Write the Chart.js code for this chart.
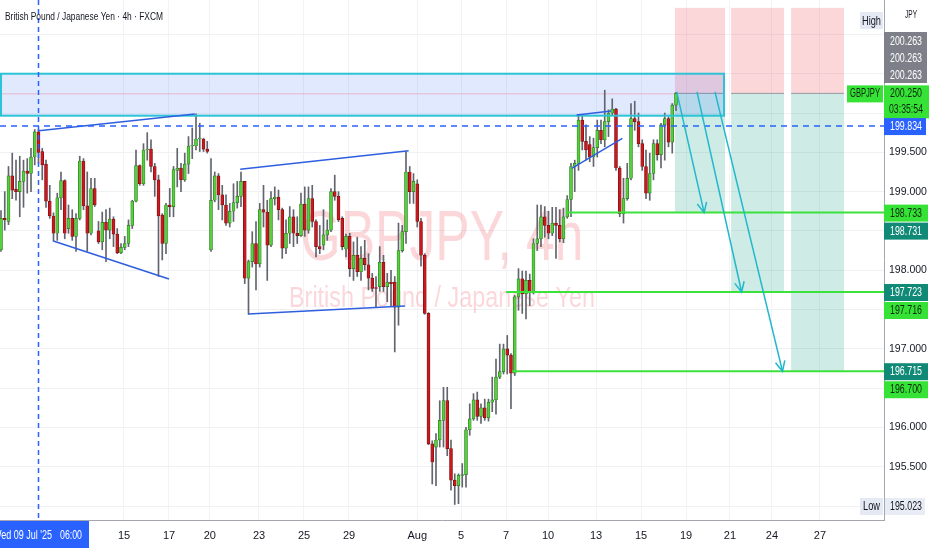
<!DOCTYPE html>
<html><head><meta charset="utf-8">
<script src="https://cdn.jsdelivr.net/npm/chart.js@4.4.1/dist/chart.umd.min.js"></script>
<style>html,body{margin:0;padding:0;background:#fff;overflow:hidden}canvas{display:block}</style>
</head><body><canvas id="c" width="932" height="550"></canvas>
<script>
// ---- data (GBPJPY 4h candles, index 0 = first visible candle) ----
const opens=[198.26,198.66,198.62,199.20,199.03,199.00,199.13,199.26,199.23,199.44,
199.76,199.51,199.35,198.88,198.69,198.47,198.92,199.14,198.53,198.66,
198.43,198.66,199.39,198.82,198.47,199.04,198.50,198.36,198.61,198.51,
198.65,198.46,198.22,198.29,198.34,198.57,198.88,199.33,199.10,199.53,
199.54,199.32,199.15,198.70,198.34,198.83,198.81,199.27,199.30,199.15,
199.35,199.58,199.58,199.67,199.67,199.54,198.26,198.89,199.20,198.96,
198.83,198.60,198.75,198.86,198.94,199.13,197.90,198.11,198.34,198.08,
198.77,198.74,198.32,198.91,198.93,198.77,198.28,198.47,198.68,198.47,
198.44,198.84,198.51,198.91,198.62,198.30,198.32,198.45,198.51,199.00,
198.94,198.66,198.27,198.43,198.02,198.19,197.98,198.15,198.07,197.90,
197.78,197.79,198.10,197.79,197.85,197.85,197.53,198.25,198.49,199.25,
199.00,199.10,198.62,198.19,197.45,195.79,195.75,195.84,196.09,196.34,
195.73,195.33,195.26,195.39,195.40,195.97,196.11,196.35,196.14,196.25,
196.12,196.32,196.35,196.64,196.71,197.00,196.92,196.69,197.66,197.89,
197.70,197.87,197.72,198.34,198.40,198.68,198.57,198.47,198.60,198.57,
198.40,198.68,198.90,199.32,199.36,199.91,199.64,199.60,199.44,199.56,
199.78,199.66,199.89,200.00,200.05,199.30,198.72,198.91,199.17,199.93,
199.89,199.61,199.32,198.98,199.23,199.61,199.47,199.85,199.93,199.63,
200.10];
const highs=[198.76,199.00,199.32,199.49,199.40,199.45,199.40,199.42,199.55,199.79,
199.79,199.55,199.40,199.08,198.73,198.98,199.25,199.15,198.83,198.77,
198.72,199.45,199.42,199.25,199.17,199.17,198.62,198.74,198.77,198.79,
198.68,198.53,198.34,198.43,198.64,198.89,199.53,199.34,199.61,199.75,
199.66,199.36,199.21,198.72,198.85,199.04,199.32,199.55,199.36,199.49,
199.70,199.81,199.99,199.87,199.68,199.64,199.42,199.25,199.23,199.08,
198.96,198.85,199.10,199.13,199.25,199.13,198.13,198.49,198.62,198.85,
199.08,198.89,199.00,199.06,199.02,198.79,198.64,198.81,198.77,198.68,
198.98,199.06,199.06,199.08,198.64,198.57,198.77,198.64,199.04,199.21,
199.00,198.68,198.46,198.47,198.36,198.42,198.30,198.38,198.21,197.96,
197.92,198.30,198.19,197.96,198.00,197.92,198.60,198.57,199.51,199.32,
199.23,199.15,198.66,198.21,197.46,195.83,195.92,196.34,196.51,196.51,
195.84,195.41,195.41,195.54,196.00,196.30,196.43,196.45,196.30,196.36,
196.36,196.64,196.87,197.06,197.06,197.17,196.94,197.68,198.02,197.99,
197.99,197.95,198.40,198.83,198.83,198.81,198.75,198.80,198.80,198.77,
198.79,198.95,199.36,199.40,199.98,199.98,199.85,199.70,199.68,199.91,
199.91,200.29,200.04,200.18,200.06,199.32,199.17,199.36,200.12,200.15,
200.00,199.66,199.53,199.49,199.66,199.66,199.87,200.00,199.95,200.12,
200.263];
const lows=[198.24,198.51,198.58,198.91,198.89,198.68,198.80,198.98,199.00,199.34,
199.36,199.15,198.80,198.66,198.37,198.38,198.77,198.40,198.47,198.38,
198.24,198.64,198.77,198.24,198.45,198.81,198.34,198.26,198.11,198.40,
198.30,198.21,198.21,198.26,198.30,198.53,198.87,199.08,199.08,199.40,
199.25,198.94,197.92,198.13,198.21,198.68,198.68,199.06,199.00,199.13,
199.23,199.42,199.53,199.51,199.51,199.49,198.24,198.87,198.77,198.64,
198.57,198.55,198.62,198.79,198.81,197.83,197.44,198.04,197.75,198.04,
198.55,197.87,198.30,198.83,198.64,198.15,198.21,198.34,198.30,198.34,
198.43,198.43,198.47,198.55,198.17,198.21,198.26,198.38,198.49,198.89,
198.62,198.26,198.17,197.92,197.87,197.92,197.87,198.00,197.75,197.73,
197.53,197.73,197.73,197.60,197.55,196.96,197.30,198.23,198.34,198.85,
198.85,198.55,198.05,197.44,195.78,195.28,195.26,195.75,195.75,195.64,
195.20,195.02,195.03,195.24,195.24,195.90,196.09,196.09,196.05,196.09,
196.08,196.20,196.17,196.62,196.68,196.68,196.24,196.66,197.49,197.45,
197.38,197.55,197.70,198.25,198.30,198.42,198.40,198.44,198.15,198.36,
198.35,198.66,198.68,199.00,199.27,199.53,199.40,199.38,199.32,199.44,
199.61,199.57,199.70,199.97,199.27,198.68,198.60,198.89,199.15,199.78,
199.57,199.27,198.91,198.89,199.15,199.40,199.30,199.40,199.57,199.49,
200.03];
const closes=[198.66,198.64,199.20,199.02,199.00,199.13,199.26,199.23,199.44,199.76,
199.50,199.34,198.88,198.69,198.47,198.92,199.14,198.47,198.66,198.43,
198.66,199.39,198.82,198.47,199.04,198.83,198.36,198.61,198.51,198.65,
198.46,198.22,198.29,198.34,198.57,198.88,199.33,199.10,199.53,199.54,
199.32,199.15,198.69,198.34,198.83,198.81,199.28,199.30,199.15,199.35,
199.58,199.59,199.67,199.68,199.54,199.51,198.89,199.20,198.96,198.83,
198.60,198.75,198.86,198.94,199.13,197.90,198.11,198.34,198.08,198.77,
198.74,198.32,198.91,198.93,198.77,198.28,198.47,198.68,198.47,198.44,
198.84,198.51,198.91,198.62,198.30,198.27,198.45,198.51,199.00,198.94,
198.64,198.30,198.43,198.02,198.19,197.98,198.15,198.07,197.90,197.77,
197.77,198.10,197.79,197.85,197.83,197.53,198.25,198.49,199.25,199.00,
199.13,198.62,198.19,197.45,195.79,195.56,195.84,196.09,196.34,195.73,
195.33,195.26,195.39,195.40,195.97,196.11,196.35,196.14,196.25,196.12,
196.32,196.35,196.64,196.71,197.00,196.92,196.69,197.66,197.89,197.70,
197.87,197.72,198.34,198.40,198.68,198.57,198.47,198.60,198.57,198.40,
198.68,198.90,199.32,199.36,199.91,199.64,199.53,199.44,199.56,199.78,
199.66,199.89,200.00,200.05,199.30,198.72,198.91,199.17,199.93,199.89,
199.61,199.32,198.98,199.23,199.61,199.47,199.85,199.93,199.63,200.10,
200.25];
const tickPos=[32.8,44.8,55.7,68.8,80.8,92.8,111.0,122.7,134.7,145.9,158.7,170.7,182.7,194.4,205.6,218.4];
const tickLabels=['15','17','20','23','25','29','Aug','5','7','10','13','15','19','21','24','27'];
const priceTicks=[195.0,195.5,196.0,196.5,197.0,197.5,198.0,198.5,199.0,199.5,200.0,200.5,201.0];
const coveredTicks=[195.0,196.5,197.5,198.5,200.0,200.5,201.0];
const xRange=[-0.267,235.47];
const yRange=[194.822,201.438];
// drawings (in candle-index / price space)
const zone={from:0,to:192.8,low:199.966,high:200.5};
const crossIndex=10, crossPrice=199.834;
const lastPrice=200.25, highPrice=200.263, lowPrice=195.023;
const trendLines=[[10.05,199.775,51.7,199.987],[13.95,198.372,44.8,197.888],[63.8,199.284,108.7,199.52],
  [65.9,197.443,107.7,197.544],[153.5,199.975,162.7,200.025],[152.2,199.296,165.7,199.678]];
const targets=[198.733,197.723,196.715];
const targetStarts=[150.9,134.7,136.3];
const stopLevel=201.338;
const boxFrom=[179.7,194.7,210.7], boxTo=[193.1,208.8,224.8];
const arrows=[[180.2,200.27,187.5,198.733],[185.6,200.27,197.5,197.723],[190.4,200.27,208.4,196.715]];
const targetLabelsA=['198.733','197.723','196.715'];
const targetLabelsB=['198.731','197.716','196.700'];

const BASEFONT="'Liberation Sans',Arial,sans-serif";
Chart.defaults.font.family=BASEFONT;

const idx=opens.map((_,i)=>i);
const up=idx.map(i=>closes[i]>=opens[i]);

function condText(ctx,text,x,y,size,width,align,color,weight){
  ctx.save();ctx.font=(weight||'')+' '+size+'px '+BASEFONT;ctx.fillStyle=color;
  const m=ctx.measureText(text).width;const sx=width/m;
  ctx.translate(x,y);ctx.scale(sx,1);ctx.textAlign=align||'left';ctx.textBaseline='alphabetic';
  ctx.fillText(text,0,0);ctx.restore();
}
function arrowHead(ctx,x1,y1,x2,y2,len){
  const a=Math.atan2(y2-y1,x2-x1);
  ctx.beginPath();
  ctx.moveTo(x2-len*Math.cos(a-0.45),y2-len*Math.sin(a-0.45));ctx.lineTo(x2,y2);
  ctx.lineTo(x2-len*Math.cos(a+0.45),y2-len*Math.sin(a+0.45));ctx.stroke();
}
function noPad(s){s.paddingTop=0;s.paddingBottom=0;s.paddingLeft=0;s.paddingRight=0;}

const drawings={
  id:'drawings',
  beforeDatasetsDraw(chart){
    const ctx=chart.ctx,a=chart.chartArea,X=v=>chart.scales.x.getPixelForValue(v),Y=v=>chart.scales.y.getPixelForValue(v);
    ctx.save();ctx.beginPath();ctx.rect(a.left,a.top,a.right-a.left,a.bottom-a.top);ctx.clip();
    const cx=(a.left+a.right)/2;
    condText(ctx,'GBPJPY, 4h',cx,a.top+260,71,283,'center','rgba(242,54,69,0.2)');
    condText(ctx,'British Pound / Japanese Yen',cx,a.top+306.5,29,306,'center','rgba(242,54,69,0.2)');
    for(let k=0;k<3;k++){
      const x1=X(boxFrom[k]),x2=X(boxTo[k]);
      ctx.fillStyle='rgba(242,54,69,0.2)';ctx.fillRect(x1,Y(stopLevel),x2-x1,Y(lastPrice)-Y(stopLevel));
      ctx.fillStyle='rgba(8,153,129,0.2)';ctx.fillRect(x1,Y(lastPrice),x2-x1,Y(targets[k])-Y(lastPrice));
      ctx.strokeStyle='#9598a1';ctx.lineWidth=1;ctx.beginPath();ctx.moveTo(x1,Y(lastPrice));ctx.lineTo(x2,Y(lastPrice));ctx.stroke();
    }
    ctx.fillStyle='rgba(41,98,255,0.14)';
    ctx.fillRect(X(zone.from),Y(zone.high),X(zone.to)-X(zone.from),Y(zone.low)-Y(zone.high));
    ctx.strokeStyle='rgba(242,54,69,0.28)';ctx.lineWidth=1;
    ctx.beginPath();ctx.moveTo(a.left,Y(lastPrice)+0.5);ctx.lineTo(X(boxFrom[0]),Y(lastPrice)+0.5);ctx.stroke();
    ctx.restore();
  },
  afterDatasetsDraw(chart){
    const ctx=chart.ctx,a=chart.chartArea,X=v=>chart.scales.x.getPixelForValue(v),Y=v=>chart.scales.y.getPixelForValue(v);
    ctx.save();ctx.beginPath();ctx.rect(a.left,a.top,a.right-a.left,a.bottom-a.top);ctx.clip();
    ctx.strokeStyle='#2cc3d6';ctx.lineWidth=2;
    ctx.strokeRect(X(zone.from),Y(zone.high),X(zone.to)-X(zone.from),Y(zone.low)-Y(zone.high));
    ctx.strokeStyle='#2f5fe0';ctx.lineWidth=1.6;
    trendLines.forEach(t=>{ctx.beginPath();ctx.moveTo(X(t[0]),Y(t[1]));ctx.lineTo(X(t[2]),Y(t[3]));ctx.stroke();});
    ctx.strokeStyle='#3ce23c';ctx.lineWidth=2;
    targets.forEach((t,k)=>{ctx.beginPath();ctx.moveTo(X(targetStarts[k]),Y(t));ctx.lineTo(a.right,Y(t));ctx.stroke();});
    ctx.strokeStyle='#2962ff';ctx.lineWidth=1.5;ctx.setLineDash([6,5]);
    ctx.beginPath();ctx.moveTo(a.left,Y(crossPrice));ctx.lineTo(a.right,Y(crossPrice));ctx.stroke();
    ctx.setLineDash([5,4]);
    ctx.beginPath();ctx.moveTo(X(crossIndex),a.top);ctx.lineTo(X(crossIndex),a.bottom);ctx.stroke();
    ctx.setLineDash([]);
    ctx.strokeStyle='#22b8cc';ctx.lineWidth=1.5;
    arrows.forEach(r=>{const x1=X(r[0]),y1=Y(r[1]),x2=X(r[2]),y2=Y(r[3]);
      ctx.beginPath();ctx.moveTo(x1,y1);ctx.lineTo(x2,y2);ctx.stroke();arrowHead(ctx,x1,y1,x2,y2,11);});
    ctx.restore();
  },
  afterDraw(chart){
    const ctx=chart.ctx,a=chart.chartArea,Y=v=>chart.scales.y.getPixelForValue(v);
    const L=a.right;
    condText(ctx,'British Pound / Japanese Yen · 4h · FXCM',a.left+5,a.top+19.5,11.5,158,'left','#131722');
    function box(y1,h,bg,x1,w){ctx.fillStyle=bg;ctx.fillRect(x1===undefined?L:x1,y1,w||43,h);}
    function txt(t,yc,col,x,w){condText(ctx,t,x===undefined?L+6:x,yc+4,12,w||32,'left',col);}
    condText(ctx,'JPY',L+21,a.top+18,11,12,'left','#131722');
    box(a.top+12,17,'#e4e9f3',L-24,23);condText(ctx,'High',L-22,a.top+25,12,19,'left','#131722');
    box(a.top+32,51,'#7d8089');
    [40.5,58,75].forEach(yc=>txt(highPrice.toFixed(3),a.top+yc,'#ffffff'));
    const yl=Y(lastPrice);
    box(yl-8,33,'#36e236',L,45);txt(lastPrice.toFixed(3),yl,'#0e2a0e');txt('03:35:54',yl+16,'#0e2a0e',L+5,34);
    box(yl-8,17,'#36e236',L-37,36);condText(ctx,'GBPJPY',L-34,yl+4,12,30,'left','#0e2a0e');
    const yc=Y(crossPrice);box(yc-8,17,'#2962ff',L,42);txt(crossPrice.toFixed(3),yc,'#ffffff');
    targets.forEach((t,k)=>{const y=Y(t);
      const firstGreen=(k===0);
      box(y-8,17,firstGreen?'#36e236':'#108a77',L,44);txt(targetLabelsA[k],y,firstGreen?'#0e2a0e':'#ffffff');
      box(y+10,17,firstGreen?'#108a77':'#36e236',L,44);txt(targetLabelsB[k],y+18,firstGreen?'#ffffff':'#0e2a0e');
    });
    const ylo=a.top+506;
    box(ylo-8,17,'#e4e9f3',L-24,23);condText(ctx,'Low',L-21,ylo+4,12,17,'left','#131722');
    box(ylo-8,17,'#e8ecf5',L+1,40);txt(lowPrice.toFixed(3),ylo,'#131722');
    const yb=a.bottom+1;
    ctx.fillStyle='#2962ff';ctx.fillRect(0,yb,89,27);
    condText(ctx,"Wed 09 Jul '25",52,yb+18,12,59,'right','#ffffff');
    condText(ctx,'06:00',60,yb+18,12,22,'left','#ffffff');
  }
};

new Chart(document.getElementById('c'),{
  type:'bar',
  data:{datasets:[
    {data:idx.map(i=>({x:i,y:[opens[i],closes[i]]})),
     backgroundColor:idx.map(i=>up[i]?'#55cf3c':'#c9181e'),
     borderColor:idx.map(i=>up[i]?'#2f7a22':'#7c1013'),
     borderWidth:0.7,borderSkipped:false,barThickness:3,grouped:false,order:1},
    {data:idx.map(i=>({x:i,y:[lows[i],highs[i]]})),
     backgroundColor:'#62656e',borderWidth:0,barThickness:1,grouped:false,order:2}
  ]},
  options:{
    responsive:false,animation:false,devicePixelRatio:1,
    layout:{padding:0},
    plugins:{legend:{display:false},tooltip:{enabled:false}},
    scales:{
      x:{type:'linear',min:xRange[0],max:xRange[1],offset:false,
        grid:{color:'#f2f3f6',drawTicks:false,offset:false},border:{color:'#a3a6af'},
        afterBuildTicks:s=>{s.ticks=tickPos.map(v=>({value:v}));},
        ticks:{autoSkip:false,maxRotation:0,padding:9,color:'#131722',font:{size:11},callback:(v,k)=>tickLabels[k]},
        afterFit:s=>{s.height=30;noPad(s);}},
      y:{type:'linear',position:'right',min:yRange[0],max:yRange[1],beginAtZero:false,
        grid:{color:'#f0f1f5',drawTicks:false},border:{color:'#a3a6af'},
        afterBuildTicks:s=>{s.ticks=priceTicks.map(v=>({value:v}));},
        ticks:{padding:5,color:'#131722',font:{size:10.5},
          callback:v=>coveredTicks.some(c=>Math.abs(c-v)<1e-6)?'':Number(v).toFixed(3)},
        afterFit:s=>{s.width=48;noPad(s);}}
    }
  },
  plugins:[drawings]
});
</script>
</body></html>
